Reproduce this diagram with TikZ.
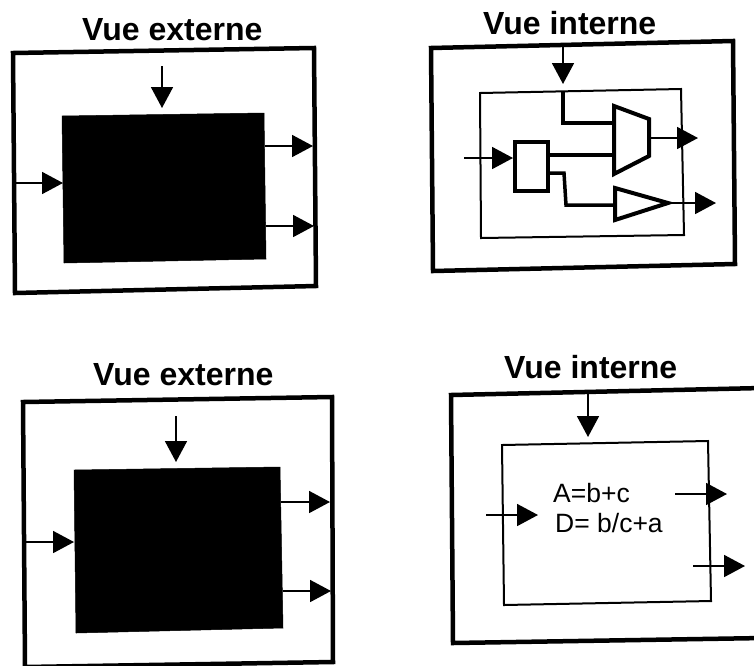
\documentclass[tikz,border=0pt]{standalone}
\usepackage{fontspec}
\setmainfont{Liberation Sans}
\usetikzlibrary{arrows.meta}
\tikzset{
  outerbox/.style={draw=black,line width=4.5pt,line join=miter},
  innerbox/.style={draw=black,line width=2pt,line join=miter},
  blackbox/.style={draw=black,fill=black,line width=0.5pt},
  flow/.style={draw=black,line width=1.8pt,-{Triangle[length=21pt,width=22pt]}},
  wire/.style={draw=black,line width=3.5pt,line join=miter},
  gate/.style={draw=black,line width=4pt,line join=miter,fill=white},
  heading/.style={font=\fontsize{32}{34}\selectfont\bfseries,anchor=base west,inner sep=0pt},
  body/.style={font=\fontsize{26.5}{28}\selectfont,anchor=base west,inner sep=0pt}
}
\begin{document}
\begin{tikzpicture}[x=1pt,y=-1pt]
\useasboundingbox (0,0) rectangle (754,665);
\clip (0,0) rectangle (754,665);
\fill[white] (0,0) rectangle (754,665);

% ---- top left : external view
\node[heading] (t1) at (82,40) {Vue externe};
\draw[outerbox] (13,53) -- (314,48) -- (316,286) -- (15,293) -- cycle;
\draw[blackbox] (62,116) -- (264,113) -- (266,259) -- (64,263) -- cycle;
\coordinate (a1s) at (162,66);  \coordinate (a1e) at (162,108);
\coordinate (a2s) at (15,183);  \coordinate (a2e) at (63,183);
\coordinate (a3s) at (265,146); \coordinate (a3e) at (313,146);
\coordinate (a4s) at (266,226); \coordinate (a4e) at (314,226);
\draw[flow] (a1s) -- (a1e);
\draw[flow] (a2s) -- (a2e);
\draw[flow] (a3s) -- (a3e);
\draw[flow] (a4s) -- (a4e);

% ---- top right : internal view with gates
\node[heading] (t2) at (483,34) {Vue interne};
\draw[outerbox] (431,48) -- (733,41) -- (735,264) -- (433,271) -- cycle;
\draw[innerbox] (480,93) -- (681,89) -- (684,235) -- (481,238) -- cycle;
\coordinate (b1s) at (563,46);  \coordinate (b1e) at (563,84);
\coordinate (b2s) at (464,158); \coordinate (b2e) at (513,158);
\coordinate (muxIn1) at (614,123);
\coordinate (muxIn2) at (614,155);
\coordinate (muxOut) at (649,138);
\coordinate (b3e) at (698,138);
\coordinate (ampIn) at (615,205);
\coordinate (ampOut) at (668,203);
\coordinate (b4e) at (716,203);
\coordinate (wTop) at (563,91);
\coordinate (wA) at (563,123);
\coordinate (boxR1) at (548,155);
\coordinate (boxR2) at (548,173);
\coordinate (wB) at (564,173);
\coordinate (wC) at (566,205);
\draw[flow] (b1s) -- (b1e);
\draw[flow] (b2s) -- (b2e);
\draw[wire] (wTop) -- (wA) -- (muxIn1);
\draw[wire] (boxR1) -- (muxIn2);
\draw[wire] (boxR2) -- (wB) -- (wC) -- (ampIn);
\draw[gate] (515,142) rectangle (548,191);
\draw[gate] (614,106) -- (649,119) -- (649,156) -- (614,174) -- cycle;
\draw[gate] (615,188) -- (668,203) -- (615,220) -- cycle;
\draw[flow] (muxOut) -- (b3e);
\draw[flow] (ampOut) -- (b4e);

% ---- bottom left : external view
\node[heading] (t3) at (93,385) {Vue externe};
\draw[outerbox] (23,402) -- (332,397) -- (333,662) -- (25,667) -- cycle;
\draw[blackbox] (74,470) -- (280,467) -- (283,628) -- (76,633) -- cycle;
\coordinate (c1s) at (176,416); \coordinate (c1e) at (176,462);
\coordinate (c2s) at (26,542);  \coordinate (c2e) at (74,542);
\coordinate (c3s) at (281,502); \coordinate (c3e) at (330,502);
\coordinate (c4s) at (283,591); \coordinate (c4e) at (331,591);
\draw[flow] (c1s) -- (c1e);
\draw[flow] (c2s) -- (c2e);
\draw[flow] (c3s) -- (c3e);
\draw[flow] (c4s) -- (c4e);

% ---- bottom right : internal view with equations
\node[heading] (t4) at (504,378) {Vue interne};
\draw[outerbox] (451,395) -- (762,388) -- (764,638) -- (453,643) -- cycle;
\draw[innerbox] (502,445) -- (708,441) -- (711,601) -- (504,605) -- cycle;
\coordinate (d1s) at (588,393); \coordinate (d1e) at (588,437);
\coordinate (d2s) at (486,515); \coordinate (d2e) at (538,515);
\coordinate (d3s) at (675,494); \coordinate (d3e) at (727,494);
\coordinate (d4s) at (693,566); \coordinate (d4e) at (745,566);
\draw[flow] (d1s) -- (d1e);
\draw[flow] (d2s) -- (d2e);
\draw[flow] (d3s) -- (d3e);
\draw[flow] (d4s) -- (d4e);
\node[body] (eq1) at (553,502) {A=b+c};
\node[body] (eq2) at (555,532) {D= b/c+a};
\end{tikzpicture}
\end{document}
